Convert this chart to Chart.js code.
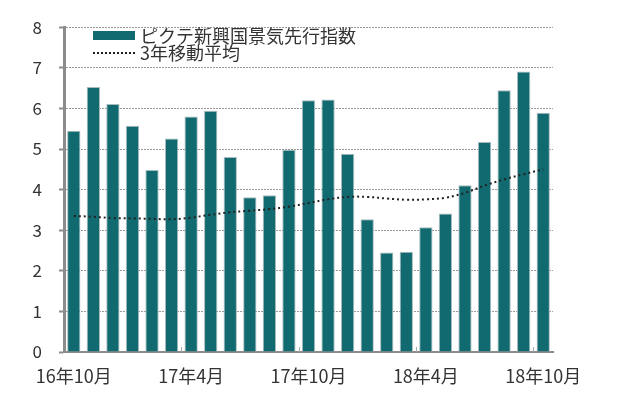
<!DOCTYPE html>
<html>
<head>
<meta charset="utf-8">
<script src="https://cdn.jsdelivr.net/npm/chart.js@4/dist/chart.umd.min.js"></script>
<style>
    body { margin: 0; background: #fff; }
    #wrap { position: relative; width: 635px; height: 397px; }
    #legend { position: absolute; left: 93px; top: 27px; font-family: 'Noto Sans CJK JP', sans-serif; font-size: 18px; color: #333; line-height: 17px; }
    .row { display: flex; align-items: center; white-space: nowrap; }
    .swatch { width: 42px; height: 9px; background: #106a70; margin-right: 5px; }
    .dots { width: 42px; height: 0; border-top: 2px dotted #222; margin-right: 5px; }
</style>
</head>
<body>
<div id="wrap">
    <canvas id="chart" width="635" height="397"></canvas>
    <div id="legend"></div>
</div>
<script>
const months = [
    '16年10月', '16年11月', '16年12月', '17年1月', '17年2月', '17年3月',
    '17年4月', '17年5月', '17年6月', '17年7月', '17年8月', '17年9月',
    '17年10月', '17年11月', '17年12月', '18年1月', '18年2月', '18年3月',
    '18年4月', '18年5月', '18年6月', '18年7月', '18年8月', '18年9月',
    '18年10月'
];
const indexValues = [
    5.45, 6.53, 6.11, 5.57, 4.48, 5.26, 5.8, 5.94, 4.8, 3.81, 3.86, 4.98,
    6.2, 6.22, 4.88, 3.27, 2.45, 2.47, 3.07, 3.41, 4.11, 5.17, 6.45, 6.91,
    5.89
];
const avgValues = [
    3.35, 3.33, 3.3, 3.29, 3.28, 3.27, 3.31, 3.38, 3.44, 3.48, 3.52, 3.58,
    3.67, 3.76, 3.82, 3.82, 3.78, 3.75, 3.76, 3.8, 3.92, 4.1, 4.25, 4.38,
    4.5
];
const yTicks = [0, 1, 2, 3, 4, 5, 6, 7, 8];
const seriesNames = ['ピクテ新興国景気先行指数', '3年移動平均'];

const font = 'Noto Sans CJK JP';
const axisGray = '#8c8c8c';

// legend as html so the two rows can sit tight like the original
document.getElementById('legend').innerHTML =
    '<div class="row"><span class="swatch"></span>' + seriesNames[0] + '</div>' +
    '<div class="row"><span class="dots"></span>' + seriesNames[1] + '</div>';

// small inward ticks on the x axis, between every 6th month
const halfYearTicks = {
    id: 'halfYearTicks',
    afterDatasetsDraw(chart) {
        const x = chart.scales.x;
        const c = chart.ctx;
        c.save();
        c.strokeStyle = '#aaa';
        c.lineWidth = 1;
        for (let i = 6; i < months.length; i += 6) {
            const px = Math.round((x.getPixelForTick(i - 1) + x.getPixelForTick(i)) / 2) + 0.5;
            c.beginPath();
            c.moveTo(px, x.top);
            c.lineTo(px, x.top - 5);
            c.stroke();
        }
        c.restore();
    }
};

new Chart(document.getElementById('chart'), {
    type: 'bar',
    data: {
        labels: months,
        datasets: [{
            label: seriesNames[1],
            type: 'line',
            data: avgValues,
            borderColor: '#222',
            borderWidth: 2,
            borderDash: [2, 3],
            pointRadius: 0,
            tension: 0.4,
            order: 0
        }, {
            label: seriesNames[0],
            data: indexValues,
            backgroundColor: '#106a70',
            borderColor: '#a9bcbd',
            borderWidth: 1,
            categoryPercentage: 1,
            barPercentage: 0.68,
            order: 1
        }]
    },
    options: {
        responsive: false,
        animation: false,
        layout: { padding: { top: 14, right: 82, left: 0, bottom: 0 } },
        plugins: {
            legend: { display: false },
            tooltip: { enabled: false }
        },
        scales: {
            x: {
                grid: { display: false, drawTicks: false },
                border: { color: axisGray, width: 2 },
                ticks: {
                    autoSkip: false,
                    maxRotation: 0,
                    padding: 13,
                    color: '#333',
                    font: { family: font, size: 18 },
                    callback: function (val, i) {
                        return i % 6 === 0 ? months[i] : '';
                    }
                },
                afterFit: function (s) { s.height = 45; }
            },
            y: {
                min: yTicks[0],
                max: yTicks[yTicks.length - 1],
                grid: {
                    color: '#9a9a9a',
                    lineWidth: 1,
                    tickLength: 5,
                    tickColor: axisGray,
                    tickWidth: 2,
                    tickBorderDash: []
                },
                border: { color: axisGray, width: 3, dash: [2, 1] },
                ticks: {
                    stepSize: 1,
                    padding: 17,
                    color: '#333',
                    font: { family: font, size: 17 }
                },
                afterFit: function (s) { s.width = 64; }
            }
        }
    },
    plugins: [halfYearTicks]
});
</script>
</body>
</html>
